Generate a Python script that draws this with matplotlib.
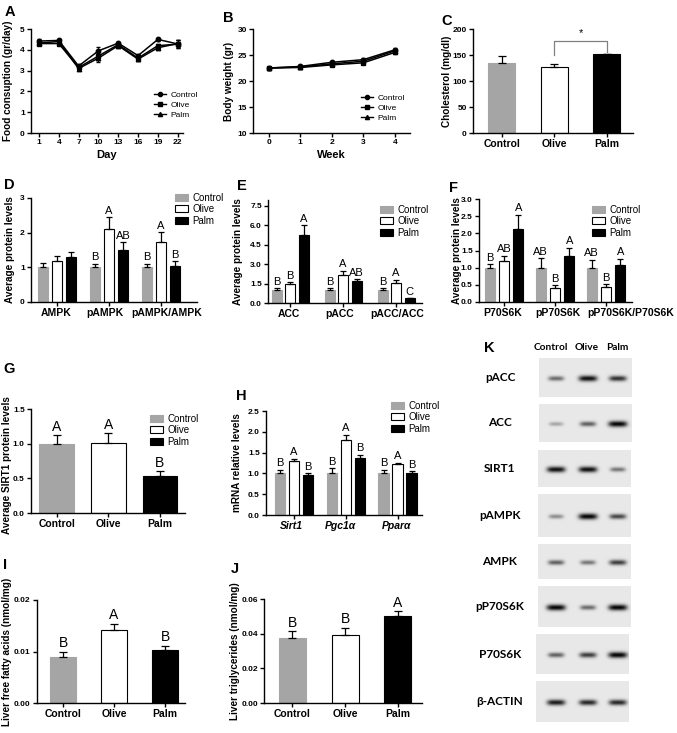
import numpy as np
import matplotlib
matplotlib.use('Agg')
import matplotlib.pyplot as plt
from matplotlib.patches import Patch
from matplotlib.lines import Line2D

W, H = 677, 733
plt.rcParams['font.family'] = ['Liberation Sans', 'DejaVu Sans']

groups = ['Control', 'Olive', 'Palm']
bar_colors = ['#a5a5a5', 'white', 'black']
bar_edges = ['#a5a5a5', 'black', 'black']

# A - food consumption
days = [1, 4, 7, 10, 13, 16, 19, 22]
food_control = [4.42, 4.45, 3.22, 3.95, 4.32, 3.72, 4.50, 4.28]
food_olive = [4.30, 4.30, 3.15, 3.70, 4.25, 3.60, 4.20, 4.27]
food_palm = [4.32, 4.40, 3.10, 3.60, 4.20, 3.55, 4.10, 4.30]
food_err = [0.08, 0.08, 0.08, 0.18, 0.07, 0.07, 0.08, 0.18]

# B - body weight
weeks = [0, 1, 2, 3, 4]
bw_control = [22.5, 22.8, 23.6, 24.1, 26.0]
bw_olive = [22.5, 22.6, 23.1, 23.5, 25.5]
bw_palm = [22.5, 22.7, 23.3, 23.8, 25.8]
bw_err = [0.2, 0.2, 0.2, 0.25, 0.3]

# C - cholesterol
chol = [134, 126, 151]
chol_err = [14, 7, 1]

# D - AMPK
ampk_cats = ['AMPK', 'pAMPK', 'pAMPK/AMPK']
ampk_vals = [[1.0, 1.0, 1.0], [1.17, 2.12, 1.73], [1.30, 1.50, 1.05]]
ampk_err = [[0.12, 0.10, 0.10], [0.17, 0.32, 0.28], [0.15, 0.22, 0.12]]
ampk_letters = [['', 'B', 'B'], ['', 'A', 'A'], ['', 'AB', 'B']]

# E - ACC
acc_cats = ['ACC', 'pACC', 'pACC/ACC']
acc_vals = [[1.0, 1.0, 1.0], [1.45, 2.2, 1.55], [5.25, 1.7, 0.35]]
acc_err = [[0.15, 0.15, 0.15], [0.15, 0.3, 0.25], [0.75, 0.15, 0.02]]
acc_letters = [['B', 'B', 'B'], ['B', 'A', 'A'], ['A', 'AB', 'C']]

# F - P70S6K
p70_cats = ['P70S6K', 'pP70S6K', 'pP70S6K/P70S6K']
p70_vals = [[1.0, 1.0, 1.0], [1.2, 0.42, 0.45], [2.12, 1.35, 1.08]]
p70_err = [[0.1, 0.27, 0.23], [0.15, 0.07, 0.07], [0.42, 0.23, 0.18]]
p70_letters = [['B', 'AB', 'AB'], ['AB', 'B', 'B'], ['A', 'A', 'A']]

# G - SIRT1 protein
sirt = [1.0, 1.01, 0.54]
sirt_err = [0.12, 0.14, 0.06]
sirt_letters = ['A', 'A', 'B']

# H - mRNA
mrna_cats = ['Sirt1', 'Pgc1α', 'Pparα']
mrna_vals = [[1.02, 1.02, 1.02], [1.30, 1.80, 1.22], [0.96, 1.37, 1.01]]
mrna_err = [[0.07, 0.10, 0.07], [0.05, 0.13, 0.04], [0.05, 0.08, 0.04]]
mrna_letters = [['B', 'B', 'B'], ['A', 'A', 'A'], ['B', 'B', 'B']]

# I - liver FFA
ffa = [0.0090, 0.0142, 0.0103]
ffa_err = [0.0010, 0.0012, 0.0008]
ffa_letters = ['B', 'A', 'B']

# J - liver TG
tg = [0.0375, 0.039, 0.050]
tg_err = [0.004, 0.0045, 0.003]
tg_letters = ['B', 'B', 'A']

# K - western blots (band darkness 0..1 for Control, Olive, Palm)
blot_names = ['pACC', 'ACC', 'SIRT1', 'pAMPK', 'AMPK', 'pP70S6K', 'P70S6K', 'β-ACTIN']
blot_bands = [[0.55, 0.95, 0.80], [0.30, 0.60, 1.00], [0.95, 0.95, 0.50],
              [0.40, 1.00, 0.70], [0.60, 0.50, 0.75], [1.00, 0.55, 1.00],
              [0.60, 0.75, 1.00], [0.90, 0.85, 0.85]]

fig = plt.figure(figsize=(W / 100, H / 100), dpi=100)


def make_ax(l, t, r, b, yticks, ylim, fmt=None):
    ax = fig.add_axes([l / W, 1 - b / H, (r - l) / W, (b - t) / H])
    for s in ['top', 'right']:
        ax.spines[s].set_visible(False)
    for s in ['left', 'bottom']:
        ax.spines[s].set_linewidth(1.0)
    ax.tick_params(direction='out', length=3, width=1, labelsize=6, pad=1.5)
    ax.set_ylim(*ylim)
    ax.set_yticks(yticks)
    if fmt:
        ax.set_yticklabels([fmt % v for v in yticks])
    for lab in ax.get_yticklabels():
        lab.set_fontweight('bold')
    return ax


def ylab(x, t, b, text):
    fig.text(x / W, 1 - (t + b) / 2 / H, text, rotation=90, ha='center', va='center',
             fontsize=7.2, fontweight='bold')


def letter(x, y, s):
    fig.text(x / W, 1 - y / H, s, fontsize=10.5, fontweight='bold', ha='left', va='top')


def bar_legend(ax, x, y):
    hs = [Patch(facecolor=c, edgecolor=e, linewidth=0.8) for c, e in zip(bar_colors, bar_edges)]
    ax.legend(hs, groups, loc='upper left', bbox_to_anchor=(x / W, 1 - y / H),
              bbox_transform=fig.transFigure, frameon=False, borderpad=0, fontsize=7,
              handlelength=1.3, handleheight=0.75, labelspacing=0.15, handletextpad=0.5)


def grouped(ax, cats, vals, errs, letters, off, width, lsize, shifts, italic=False):
    x = np.arange(len(cats))
    for i in range(3):
        xi = x + (i - 1) * off
        ax.bar(xi, vals[i], width, color=bar_colors[i], edgecolor=bar_edges[i], linewidth=0.8)
        ax.errorbar(xi, vals[i], yerr=[np.zeros(len(cats)), errs[i]], fmt='none',
                    ecolor='black', elinewidth=0.9, capsize=2.5, capthick=0.9)
        for j in range(len(cats)):
            if letters[i][j]:
                ax.annotate(letters[i][j], (xi[j], vals[i][j] + errs[i][j]), xytext=(0, 1),
                            textcoords='offset points', ha='center', va='bottom', fontsize=lsize)
    ax.set_xticks(x)
    ax.set_xticklabels([])
    for j, c in enumerate(cats):
        ax.annotate(c, (x[j], 0), xycoords=('data', 'axes fraction'),
                    xytext=(shifts[j] * 0.72, -4.5), textcoords='offset points',
                    ha='center', va='top', fontsize=7.5, fontweight='bold',
                    fontstyle='italic' if italic else 'normal', annotation_clip=False)


def simple(ax, vals, errs, letters, width, lsize):
    x = np.arange(3)
    ax.bar(x, vals, width, color=bar_colors, edgecolor=bar_edges, linewidth=0.8)
    ax.errorbar(x, vals, yerr=[np.zeros(3), errs], fmt='none', ecolor='black',
                elinewidth=0.9, capsize=3, capthick=0.9)
    if letters:
        for j in range(3):
            ax.annotate(letters[j], (x[j], vals[j] + errs[j]), xytext=(0, 1),
                        textcoords='offset points', ha='center', va='bottom', fontsize=lsize)
    ax.set_xticks(x)
    ax.set_xticklabels(groups, fontsize=7.5, fontweight='bold')


# A
ax = make_ax(31, 29, 183, 133, [0, 1, 2, 3, 4, 5], (0, 5))
for ys, m in zip([food_control, food_olive, food_palm], ['o', 's', '^']):
    ax.errorbar(days, ys, yerr=food_err, color='black', marker=m, ms=3.2, lw=1.1,
                elinewidth=0.7, capsize=1.5)
ax.set_xlim(-0.2, 22.8)
ax.set_xticks(days)
for lab in ax.get_xticklabels():
    lab.set_fontweight('bold')
ax.set_xlabel('Day', fontsize=8, fontweight='bold', labelpad=3)
hs = [Line2D([], [], color='black', marker=m, ms=3, lw=1) for m in ['o', 's', '^']]
ax.legend(hs, groups, loc='center left', bbox_to_anchor=(0.78, 0.27), frameon=False,
          fontsize=6, handlelength=1.5, handletextpad=0.5, labelspacing=0.3, borderpad=0)
ylab(8, 29, 133, 'Food consuption (gr/day)')

# B
ax = make_ax(253, 29, 410, 133, [10, 15, 20, 25, 30], (10, 30))
for ys, m in zip([bw_control, bw_olive, bw_palm], ['o', 's', '^']):
    ax.errorbar(weeks, ys, yerr=bw_err, color='black', marker=m, ms=3.2, lw=1.1,
                elinewidth=0.7, capsize=1.5)
ax.set_xlim(-0.5, 4.48)
ax.set_xticks(weeks)
for lab in ax.get_xticklabels():
    lab.set_fontweight('bold')
ax.set_xlabel('Week', fontsize=8, fontweight='bold', labelpad=3)
ax.legend(hs, groups, loc='center left', bbox_to_anchor=(0.66, 0.24), frameon=False,
          fontsize=6, handlelength=1.5, handletextpad=0.5, labelspacing=0.3, borderpad=0)
ylab(229, 29, 133, 'Body weight (gr)')

# C
ax = make_ax(473, 29, 633, 133, [0, 50, 100, 150, 200], (0, 200))
simple(ax, chol, chol_err, None, 0.51, 8)
ax.set_xlim(-0.55, 2.5)
ax.plot([1, 1, 2, 2], [150, 177, 177, 156], color='#808080', lw=0.9)
ax.text(1.5, 182, '*', ha='center', va='bottom', fontsize=8)
ylab(447, 29, 133, 'Cholesterol (mg/dl)')

# D
ax = make_ax(31, 198, 197, 302, [0, 1, 2, 3], (0, 3))
grouped(ax, ampk_cats, ampk_vals, ampk_err, ampk_letters, 0.27, 0.19, 8, [-1, -4, 6])
ax.set_xlim(-0.5, 2.69)
bar_legend(ax, 170, 188)
ylab(10, 198, 302, 'Average protein levels')

# E
ax = make_ax(268, 200, 422, 303, [0, 1.5, 3.0, 4.5, 6.0, 7.5], (0, 7.96), '%.1f')
grouped(ax, acc_cats, acc_vals, acc_err, acc_letters, 0.255, 0.19, 8, [-1, -4, 1])
ax.set_xlim(-0.42, 2.49)
bar_legend(ax, 375, 200)
ylab(238, 200, 303, 'Average protein levels')

# F
ax = make_ax(479, 199, 632, 302, [0, 0.5, 1.0, 1.5, 2.0, 2.5, 3.0], (0, 3.0), '%.1f')
grouped(ax, p70_cats, p70_vals, p70_err, p70_letters, 0.28, 0.2, 8, [-1, 3, 25])
ax.set_xlim(-0.49, 2.51)
bar_legend(ax, 587, 200)
ylab(457, 199, 302, 'Average protein levels')

# G
ax = make_ax(31, 409, 185, 513, [0, 0.5, 1.0, 1.5], (0, 1.5), '%.1f')
simple(ax, sirt, sirt_err, sirt_letters, 0.67, 10)
ax.set_xlim(-0.5, 2.49)
bar_legend(ax, 145, 409)
ylab(7, 400, 530, 'Average SIRT1 protein levels')

# H
ax = make_ax(266, 411, 422, 515, [0, 0.5, 1.0, 1.5, 2.0, 2.5], (0, 2.5), '%.1f')
grouped(ax, mrna_cats, mrna_vals, mrna_err, mrna_letters, 0.27, 0.2, 8, [-3, -5, -1], italic=True)
ax.set_xlim(-0.54, 2.47)
bar_legend(ax, 386, 396)
ylab(237, 411, 515, 'mRNA relative levels')

# I
ax = make_ax(37, 600, 185, 703, [0, 0.01, 0.02], (0, 0.02), '%.2f')
simple(ax, ffa, ffa_err, ffa_letters, 0.52, 10)
ax.set_xlim(-0.51, 2.39)
ylab(7, 600, 703, 'Liver free fatty acids (nmol/mg)')

# J
ax = make_ax(264, 599, 422, 703, [0, 0.02, 0.04, 0.06], (0, 0.06), '%.2f')
simple(ax, tg, tg_err, tg_letters, 0.51, 10)
ax.set_xlim(-0.54, 2.46)
ylab(235, 599, 703, 'Liver triglycerides (nmol/mg)')

# K - blots drawn in pixel coordinates
ax = fig.add_axes([450 / W, 0, 227 / W, 403 / H])
ax.axis('off')
kfont = ['Lato', 'DejaVu Sans']
for name, cx in zip(groups, [551, 587, 617]):
    ax.text(cx, 348, name, ha='center', va='center', fontsize=7.3, fontweight='bold', family=kfont)
box_y = [(358, 397), (404, 442), (450, 487), (494, 537), (544, 579), (586, 627), (634, 674), (681, 722)]
box_x = [539, 539, 538, 538, 538, 538, 536, 536]
lane_x = [556, 588, 618]
for name, (y0, y1), x0, bands in zip(blot_names, box_y, box_x, blot_bands):
    x1 = x0 + 93
    xs = np.linspace(x0, x1, 186)
    ys = np.linspace(y0, y1, int((y1 - y0) * 2))
    X, Y = np.meshgrid(xs, ys)
    img = np.full(X.shape, 0.91)
    cy = (y0 + y1) / 2 + 1
    for lx, d in zip(lane_x, bands):
        sx = 6 + 3.5 * d
        sy = 1.6 + 1.4 * d
        img -= 0.9 * d * np.exp(-((X - lx) / sx) ** 4 - ((Y - cy) / sy) ** 2)
    ax.imshow(np.clip(img, 0, 1), cmap='gray', vmin=0, vmax=1, extent=(x0, x1, y1, y0),
              aspect='auto', interpolation='bilinear')
    ax.text(500, (y0 + y1) / 2, name, ha='center', va='center', fontsize=8.5,
            fontweight='bold', family=kfont)
ax.set_xlim(450, 677)
ax.set_ylim(733, 330)

for s, x, y in [('A', 5, 5), ('B', 223, 11), ('C', 441, 14), ('D', 4, 178), ('E', 237, 179),
                ('F', 449, 181), ('G', 3, 362), ('H', 236, 389), ('I', 3, 558), ('J', 231, 562),
                ('K', 484, 341)]:
    letter(x, y, s)

fig.savefig('out.png', dpi=100)
